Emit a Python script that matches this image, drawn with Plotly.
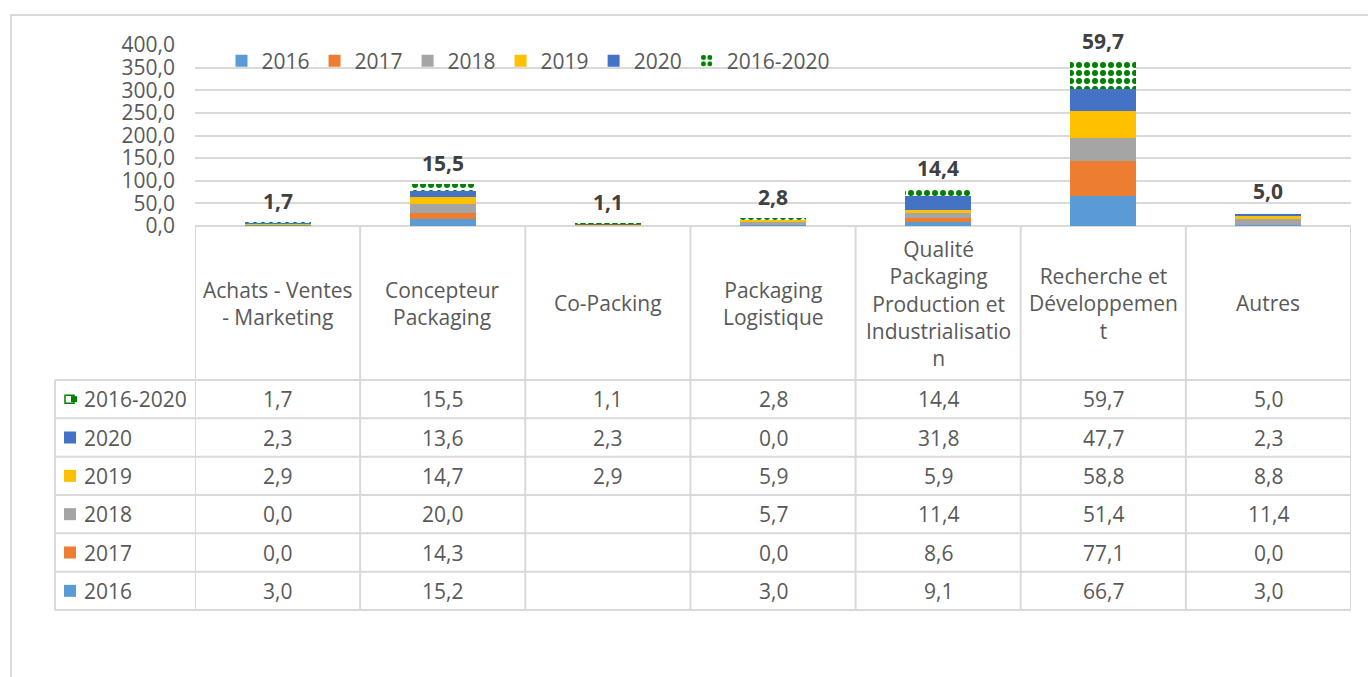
import plotly.graph_objects as go

# data
categories = ["Achats - Ventes - Marketing", "Concepteur Packaging", "Co-Packing",
              "Packaging Logistique", "Qualité Packaging Production et Industrialisation",
              "Recherche et Développement", "Autres"]
header_labels = ["Achats - Ventes<br>- Marketing", "Concepteur<br>Packaging", "Co-Packing",
                 "Packaging<br>Logistique", "Qualité<br>Packaging<br>Production et<br>Industrialisatio<br>n",
                 "Recherche et<br>Développemen<br>t", "Autres"]
series_names = ["2016", "2017", "2018", "2019", "2020", "2016-2020"]
v2016 = [3.0, 15.2, None, 3.0, 9.1, 66.7, 3.0]
v2017 = [0.0, 14.3, None, 0.0, 8.6, 77.1, 0.0]
v2018 = [0.0, 20.0, None, 5.7, 11.4, 51.4, 11.4]
v2019 = [2.9, 14.7, 2.9, 5.9, 5.9, 58.8, 8.8]
v2020 = [2.3, 13.6, 2.3, 0.0, 31.8, 47.7, 2.3]
v2016_2020 = [1.7, 15.5, 1.1, 2.8, 14.4, 59.7, 5.0]
series_values = [v2016, v2017, v2018, v2019, v2020, v2016_2020]
y_ticks = [0, 50, 100, 150, 200, 250, 300, 350, 400]

colors = ["#5B9BD5", "#ED7D31", "#A5A5A5", "#FFC000", "#4472C4", "#008000"]
W, H = 1368, 677
GRID = "#D9D9D9"
TXT = "#595959"
FONT = "Open Sans"
FS = 21


def px(x):
    return x / W


def py(y):
    return 1 - y / H


def fmt(v):
    return "" if v is None else f"{v:.1f}".replace(".", ",")


fig = go.Figure()
for name, vals, col in zip(series_names, series_values, colors):
    if name == "2016-2020":
        marker = dict(color="white", line=dict(width=0),
                      pattern=dict(shape=".", fgcolor=col, bgcolor="white", size=8, solidity=0.45,
                                   fillmode="replace"))
    else:
        marker = dict(color=col, line=dict(width=0))
    fig.add_trace(go.Bar(x=categories, y=[v if v is not None else 0 for v in vals],
                         name=name, marker=marker, hoverinfo="skip"))

shapes = []
annotations = []
line = dict(color=GRID, width=2)

# totals on top of stacks show the 2016-2020 value
totals = [sum(s[i] or 0 for s in series_values) for i in range(len(categories))]
for cat, tot, v in zip(categories, totals, v2016_2020):
    annotations.append(dict(x=cat, y=tot, xref="x", yref="y", text="<b>" + fmt(v) + "</b>",
                            showarrow=False, xanchor="center", yanchor="bottom", yshift=5,
                            font=dict(family=FONT, size=FS, color="#404040")))

# outer frame
shapes.append(dict(type="line", xref="paper", yref="paper", x0=px(11), x1=px(11), y0=py(15), y1=py(677), line=line))
shapes.append(dict(type="line", xref="paper", yref="paper", x0=px(10), x1=1, y0=py(15), y1=py(15), line=line))

# data table under the chart
row_top = 380
row_h = (610 - 380) / 6
n = len(categories)
for i in range(n + 1):
    shapes.append(dict(type="line", xref="x", yref="paper", x0=i - 0.5, x1=i - 0.5,
                       y0=py(226), y1=py(610), line=line))
shapes.append(dict(type="line", xref="paper", yref="paper", x0=px(55), x1=px(55),
                   y0=py(row_top), y1=py(610), line=line))
for r in range(7):
    yy = row_top + r * row_h
    shapes.append(dict(type="line", xref="paper", yref="paper", x0=px(55), x1=px(1351),
                       y0=py(yy), y1=py(yy), line=line))

for i, lab in enumerate(header_labels):
    annotations.append(dict(x=i, y=py(303), xref="x", yref="paper", text=lab, showarrow=False,
                            xanchor="center", yanchor="middle", align="center",
                            font=dict(family=FONT, size=FS, color=TXT)))

table_rows = list(zip(series_names, series_values, colors))[::-1]
for r, (name, vals, col) in enumerate(table_rows):
    yc = row_top + (r + 0.5) * row_h
    annotations.append(dict(x=px(82), y=py(yc), xref="paper", yref="paper", text=name, showarrow=False,
                            xanchor="left", yanchor="middle",
                            font=dict(family=FONT, size=FS, color=TXT)))
    # legend key
    if name == "2016-2020":
        shapes.append(dict(type="rect", xref="paper", yref="paper", x0=px(65), x1=px(74),
                           y0=py(yc + 4), y1=py(yc - 4), line=dict(color=col, width=1.5),
                           fillcolor="white"))
        shapes.append(dict(type="rect", xref="paper", yref="paper", x0=px(71), x1=px(77),
                           y0=py(yc + 3), y1=py(yc - 3), line=dict(width=0), fillcolor=col))
    else:
        shapes.append(dict(type="rect", xref="paper", yref="paper", x0=px(64), x1=px(76),
                           y0=py(yc + 6), y1=py(yc - 6), line=dict(width=0), fillcolor=col))
    for i, v in enumerate(vals):
        annotations.append(dict(x=i, y=py(yc), xref="x", yref="paper", text=fmt(v), showarrow=False,
                                xanchor="center", yanchor="middle",
                                font=dict(family=FONT, size=FS, color=TXT)))

fig.update_layout(
    width=W, height=H,
    margin=dict(l=0, r=0, t=0, b=0, pad=0, autoexpand=False),
    paper_bgcolor="white", plot_bgcolor="white",
    barmode="stack", bargap=0.6,
    separators=", ",
    font=dict(family=FONT, size=FS, color=TXT),
    showlegend=True,
    legend=dict(orientation="h", x=px(528), xanchor="center", y=py(61), yanchor="middle",
                traceorder="normal", bgcolor="rgba(0,0,0,0)", font=dict(size=FS, color=TXT),
                itemclick=False),
    xaxis=dict(domain=[px(195), px(1351)], range=[-0.5, n - 0.5], showticklabels=False,
               showgrid=False, zeroline=False, showline=False, fixedrange=True, automargin=False),
    yaxis=dict(domain=[py(226), py(45)], range=[0, 400], tickvals=y_ticks, tickformat=".1f",
               showgrid=True, gridcolor=GRID, gridwidth=2, zeroline=True, zerolinecolor=GRID,
               zerolinewidth=2, showline=False, ticks="", ticklabelstandoff=19, automargin=False,
               tickfont=dict(family=FONT, size=FS, color=TXT), fixedrange=True),
    shapes=shapes,
    annotations=annotations,
)

fig.write_html("out.html", config={"displayModeBar": False},
               post_script="document.body.style.margin='0';")
